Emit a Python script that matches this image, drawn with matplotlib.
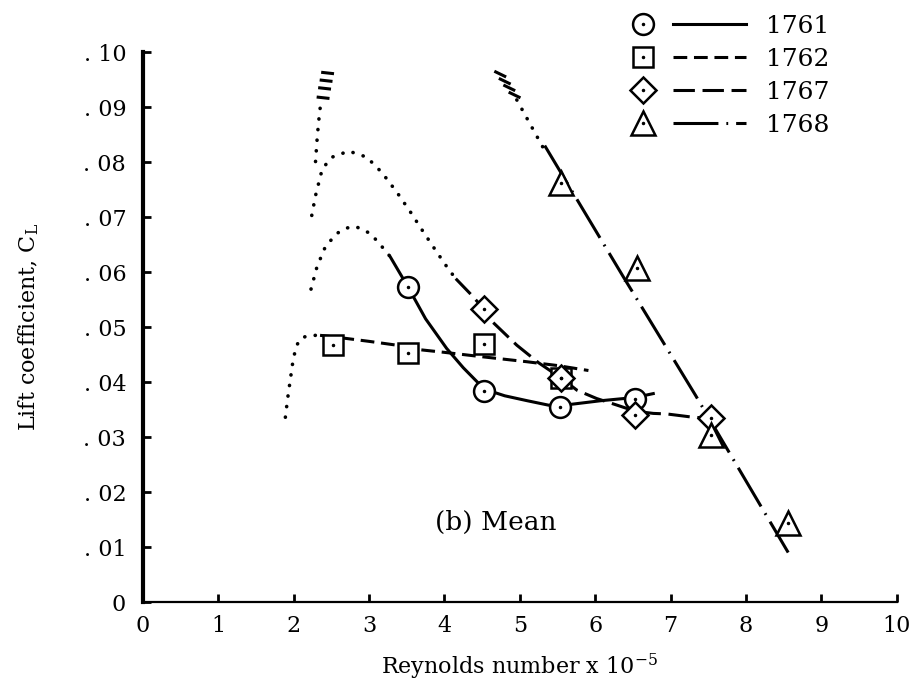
import matplotlib
matplotlib.use('Agg')
import matplotlib.pyplot as plt
from matplotlib.lines import Line2D
from matplotlib.legend_handler import HandlerBase

plt.rcParams['font.family'] = ['DejaVu Serif']
plt.rcParams['mathtext.fontset'] = 'dejavuserif'

# ---- data (Re x 10^-5, C_L) ----
# 1761 (circles, solid)
re_1761 = [3.52, 4.53, 5.53, 6.53]
cl_1761 = [0.0572, 0.0384, 0.0354, 0.0370]
fair_x_1761 = [3.28, 3.52, 3.75, 4.03, 4.25, 4.53, 4.8, 5.1, 5.38, 5.53, 5.71, 6.07, 6.53, 6.77]
fair_y_1761 = [0.0628, 0.0572, 0.0515, 0.0461, 0.0426, 0.0387, 0.0375, 0.0366, 0.0358, 0.0357, 0.0360, 0.0366, 0.0372, 0.0379]
dot_x_1761 = [2.23, 2.31, 2.42, 2.57, 2.70, 2.82, 3.02, 3.21, 3.28]
dot_y_1761 = [0.0569, 0.0610, 0.0646, 0.0670, 0.0680, 0.0683, 0.0670, 0.0640, 0.0628]

# 1762 (squares, short dashes)
re_1762 = [2.52, 3.51, 4.52, 5.545]
cl_1762 = [0.0467, 0.0452, 0.0470, 0.0407]
fair_x_1762 = [2.35, 2.6, 3.0, 3.37, 3.66, 4.0, 4.5, 5.09, 5.5, 5.91]
fair_y_1762 = [0.0485, 0.0481, 0.0474, 0.0467, 0.0459, 0.0454, 0.0446, 0.0437, 0.0430, 0.0421]
dot_x_1762 = [1.89, 1.92, 1.955, 1.986, 2.03, 2.09, 2.18, 2.30, 2.35]
dot_y_1762 = [0.0336, 0.0370, 0.0404, 0.0434, 0.0464, 0.0479, 0.0484, 0.0485, 0.0485]

# 1767 (diamonds, long dashes)
re_1767 = [4.53, 5.545, 6.53, 7.54]
cl_1767 = [0.0532, 0.0407, 0.0340, 0.0334]
fair_x_1767 = [4.15, 4.34, 4.53, 4.61, 4.96, 5.25, 5.55, 5.76, 6.02, 6.29, 6.53, 6.77, 6.95, 7.30, 7.54]
fair_y_1767 = [0.0588, 0.0561, 0.0532, 0.0513, 0.0467, 0.0435, 0.0407, 0.0385, 0.0370, 0.0358, 0.0347, 0.0343, 0.0342, 0.0336, 0.0334]
dot_x_1767 = [2.24, 2.29, 2.38, 2.51, 2.73, 2.97, 3.17, 3.37, 3.55, 3.72, 3.90, 4.05, 4.15]
dot_y_1767 = [0.0703, 0.0739, 0.0788, 0.0809, 0.0820, 0.0809, 0.0781, 0.0745, 0.0709, 0.0673, 0.0636, 0.0606, 0.0588]
# steep dotted branch near Re = 2.3 with hatch marks on top
dot_x_steep = [2.29, 2.31, 2.33, 2.355]
dot_y_steep = [0.0801, 0.0840, 0.0872, 0.0903]
hatch_x_steep = [2.45, 2.43, 2.41, 2.39]
hatch_y_steep = [0.0962, 0.0948, 0.0934, 0.0917]

# 1768 (triangles, dash-dot)
re_1768 = [5.545, 6.55, 7.53, 8.56]
cl_1768 = [0.0762, 0.0607, 0.0304, 0.0143]
fair_x_1768 = [5.33, 6.37, 7.33, 8.56]
fair_y_1768 = [0.0830, 0.0592, 0.0376, 0.0090]
dot_x_1768 = [4.96, 5.31]
dot_y_1768 = [0.0913, 0.0826]
hatch_x_1768 = [4.74, 4.80, 4.86, 4.93]
hatch_y_1768 = [0.0960, 0.0947, 0.0935, 0.0922]

x_ticks = list(range(0, 11))
y_ticks = [0, 0.01, 0.02, 0.03, 0.04, 0.05, 0.06, 0.07, 0.08, 0.09, 0.10]
y_ticklabels = ['0', '. 01', '. 02', '. 03', '. 04', '. 05', '. 06', '. 07', '. 08', '. 09', '. 10']

LW = 2.2
styles = {
    '1761': dict(marker='o', ms=15, ls='-'),
    '1762': dict(marker='s', ms=14, ls=(0, (4.5, 2.2))),
    '1767': dict(marker='D', ms=13, ls=(0, (7.0, 2.5))),
    '1768': dict(marker='^', ms=17, ls=(0, (14.7, 2.6, 0.6, 2.6))),
}
dotted = dict(color='black', lw=2.6, ls=(0, (0.05, 2.9)), dash_capstyle='round')


class MarkerThenLine(HandlerBase):
    # legend entry: marker on the left, then a short sample of the line
    def create_artists(self, legend, orig, xdescent, ydescent, width, height, fontsize, trans):
        y = height / 2 - ydescent
        line = Line2D([-xdescent + 0.36 * width, -xdescent + width], [y, y])
        self.update_prop(line, orig, legend)
        line.set_marker('None')
        line.set_transform(trans)
        mk = Line2D([-xdescent + 0.1 * width], [y])
        self.update_prop(mk, orig, legend)
        mk.set_linestyle('None')
        mk.set_transform(trans)
        dot = Line2D([-xdescent + 0.1 * width], [y], marker='.', ms=3, color='black', ls='None')
        dot.set_transform(trans)
        return [line, mk, dot]


fig = plt.figure(figsize=(9.16, 6.9), dpi=100)
ax = fig.add_axes([0.156, 0.1275, 0.823, 0.797])

series = [
    ('1761', re_1761, cl_1761, fair_x_1761, fair_y_1761, dot_x_1761, dot_y_1761),
    ('1762', re_1762, cl_1762, fair_x_1762, fair_y_1762, dot_x_1762, dot_y_1762),
    ('1767', re_1767, cl_1767, fair_x_1767, fair_y_1767, dot_x_1767, dot_y_1767),
    ('1768', re_1768, cl_1768, fair_x_1768, fair_y_1768, dot_x_1768, dot_y_1768),
]

handles = []
for name, rx, ry, fx, fy, dx, dy in series:
    st = styles[name]
    ax.plot(fx, fy, color='black', lw=LW, ls=st['ls'], zorder=2)
    ax.plot(dx, dy, zorder=2, **dotted)
    ax.plot(rx, ry, ls='none', marker=st['marker'], ms=st['ms'], mfc='white',
            mec='black', mew=1.8, zorder=3)
    ax.plot(rx, ry, ls='none', marker='.', ms=3, color='black', zorder=4)
    handles.append(Line2D([], [], color='black', lw=LW, ls=st['ls'], marker=st['marker'],
                          ms=st['ms'], mfc='white', mec='black', mew=1.8, label=name))

# steep dotted branch and the hatch marks
ax.plot(dot_x_steep, dot_y_steep, zorder=2, **dotted)
for hx, hy in zip(hatch_x_steep, hatch_y_steep):
    ax.plot([hx - 0.065, hx + 0.065], [hy + 0.0001, hy - 0.0001], color='black', lw=2.2)
for hx, hy in zip(hatch_x_1768, hatch_y_1768):
    ax.plot([hx - 0.06, hx + 0.06], [hy + 0.0004, hy - 0.0004], color='black', lw=2.2)

ax.text(3.88, 0.0145, '(b) Mean', fontsize=19, va='center', ha='left')

ax.set_xlim(0, 10)
ax.set_ylim(0, 0.10)
ax.set_xticks(x_ticks)
ax.set_yticks(y_ticks)
ax.set_yticklabels(y_ticklabels)
ax.tick_params(direction='in', length=6, width=2, labelsize=16)
ax.tick_params(axis='y', pad=12)
ax.tick_params(axis='x', pad=9)

for s in ['top', 'right']:
    ax.spines[s].set_visible(False)
ax.spines['left'].set_linewidth(3)
ax.spines['bottom'].set_linewidth(1.6)

ax.set_xlabel('Reynolds number x 10$^{-5}$', fontsize=16)
ax.set_ylabel('Lift coefficient, C$_{\\mathregular{L}}$', fontsize=16)
ax.xaxis.set_label_coords(0.5, -0.09)
ax.yaxis.set_label_coords(-0.135, 0.5)

fig.legend(handles=handles, loc='upper left', bbox_to_anchor=(0.673, 1.0),
           frameon=False, fontsize=18, handlelength=4.6, handletextpad=0.8,
           labelspacing=0.4, borderpad=0.1, handler_map={Line2D: MarkerThenLine()})

fig.savefig('out.png', dpi=100)
